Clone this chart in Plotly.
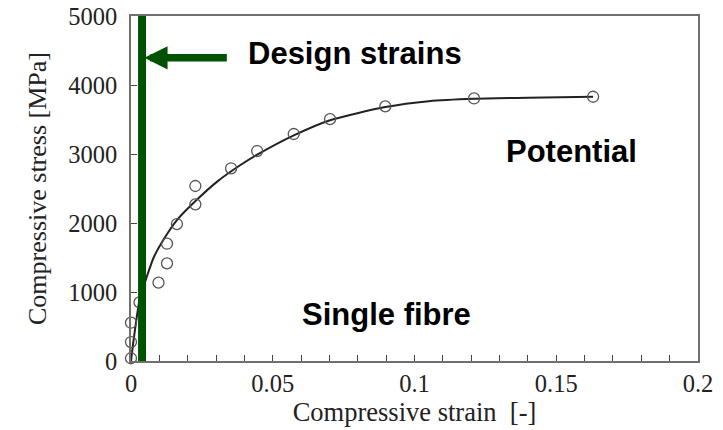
import plotly.graph_objects as go

# Measured points (open circles)
strain_pts = [0.0, 0.0, 0.0, 0.003, 0.0097, 0.0127, 0.0127, 0.0162, 0.0227, 0.0227,
              0.0353, 0.0445, 0.0574, 0.0702, 0.0897, 0.121, 0.163]
stress_pts = [40, 275, 555, 850, 1135, 1415, 1700, 1985, 2270, 2536,
              2793, 3043, 3290, 3505, 3690, 3805, 3830]

# Fitted curve
strain_fit = [0.0, 0.001, 0.003, 0.0054, 0.008, 0.0121, 0.0162, 0.0233, 0.0304,
              0.0386, 0.0445, 0.0574, 0.0702, 0.0897, 0.105, 0.121, 0.14, 0.163]
stress_fit = [0, 330, 880, 1200, 1500, 1800, 2043, 2340, 2600,
              2840, 2990, 3270, 3490, 3680, 3765, 3800, 3815, 3830]

design_strain = 0.0039
x_range = [0, 0.2]
y_range = [0, 5000]
x_ticks = [0, 0.05, 0.1, 0.15, 0.2]
x_tick_labels = ["0", "0.05", "0.1", "0.15", "0.2"]
y_ticks = [0, 1000, 2000, 3000, 4000, 5000]
y_tick_labels = ["0", "1000", "2000", "3000", "4000", "5000"]

GREEN = "#005200"
serif = "Liberation Serif, Times New Roman, serif"
sans = "Liberation Sans, Arial, sans-serif"

fig = go.Figure()
fig.add_trace(go.Scatter(x=strain_fit, y=stress_fit, mode="lines",
                         line=dict(color="#222222", width=2, shape="spline", smoothing=0.6),
                         hoverinfo="skip", showlegend=False))
fig.add_trace(go.Scatter(x=strain_pts, y=stress_pts, mode="markers", cliponaxis=False,
                         marker=dict(symbol="circle-open", size=11,
                                     line=dict(color="#555555", width=1.3), color="#555555"),
                         showlegend=False))

fig.add_shape(type="line", xref="x", yref="paper", x0=design_strain, x1=design_strain,
              y0=0, y1=1, line=dict(color=GREEN, width=8))

fig.add_annotation(x=0.0047, y=4395, xref="x", yref="y", ax=84, ay=0,
                   showarrow=True, arrowhead=2, arrowsize=0.62, arrowwidth=7.5,
                   arrowcolor=GREEN, text="")
fig.add_annotation(x=0.0404, y=4450, xref="x", yref="y", xanchor="left", yanchor="middle",
                   text="<b>Design strains</b>", showarrow=False,
                   font=dict(family=sans, size=31, color="black"))
fig.add_annotation(x=0.1555, y=3030, xref="x", yref="y", xanchor="center", yanchor="middle",
                   text="<b>Potential</b>", showarrow=False,
                   font=dict(family=sans, size=31, color="black"))
fig.add_annotation(x=0.0902, y=670, xref="x", yref="y", xanchor="center", yanchor="middle",
                   text="<b>Single fibre</b>", showarrow=False,
                   font=dict(family=sans, size=31, color="black"))

axis_common = dict(showgrid=False, zeroline=False, showline=True, linecolor="#707070",
                   linewidth=1.5, mirror=True, ticks="inside", tickcolor="#444444",
                   ticklen=6, tickwidth=1, automargin=False,
                   tickfont=dict(family=serif, size=24.5, color="#222222"))

fig.update_xaxes(range=x_range, tickvals=x_ticks, ticktext=x_tick_labels,
                 minor=dict(dtick=0.01, ticks="inside", ticklen=6, tickcolor="#444444"),
                 title=dict(text="Compressive strain \u00a0[-]",
                            font=dict(family=serif, size=26.5, color="#222222"), standoff=4),
                 **axis_common)
fig.update_yaxes(range=y_range, tickvals=y_ticks, ticktext=y_tick_labels,
                 ticklabelstandoff=7,
                 title=dict(text="Compressive stress [MPa]",
                            font=dict(family=serif, size=26, color="#222222"), standoff=14),
                 **axis_common)

fig.update_layout(width=723, height=430, plot_bgcolor="white", paper_bgcolor="white",
                  margin=dict(l=131, r=25, t=16, b=69), showlegend=False)

fig.write_html("out.html", config={"displayModeBar": False},
               post_script="document.body.style.margin='0';")
